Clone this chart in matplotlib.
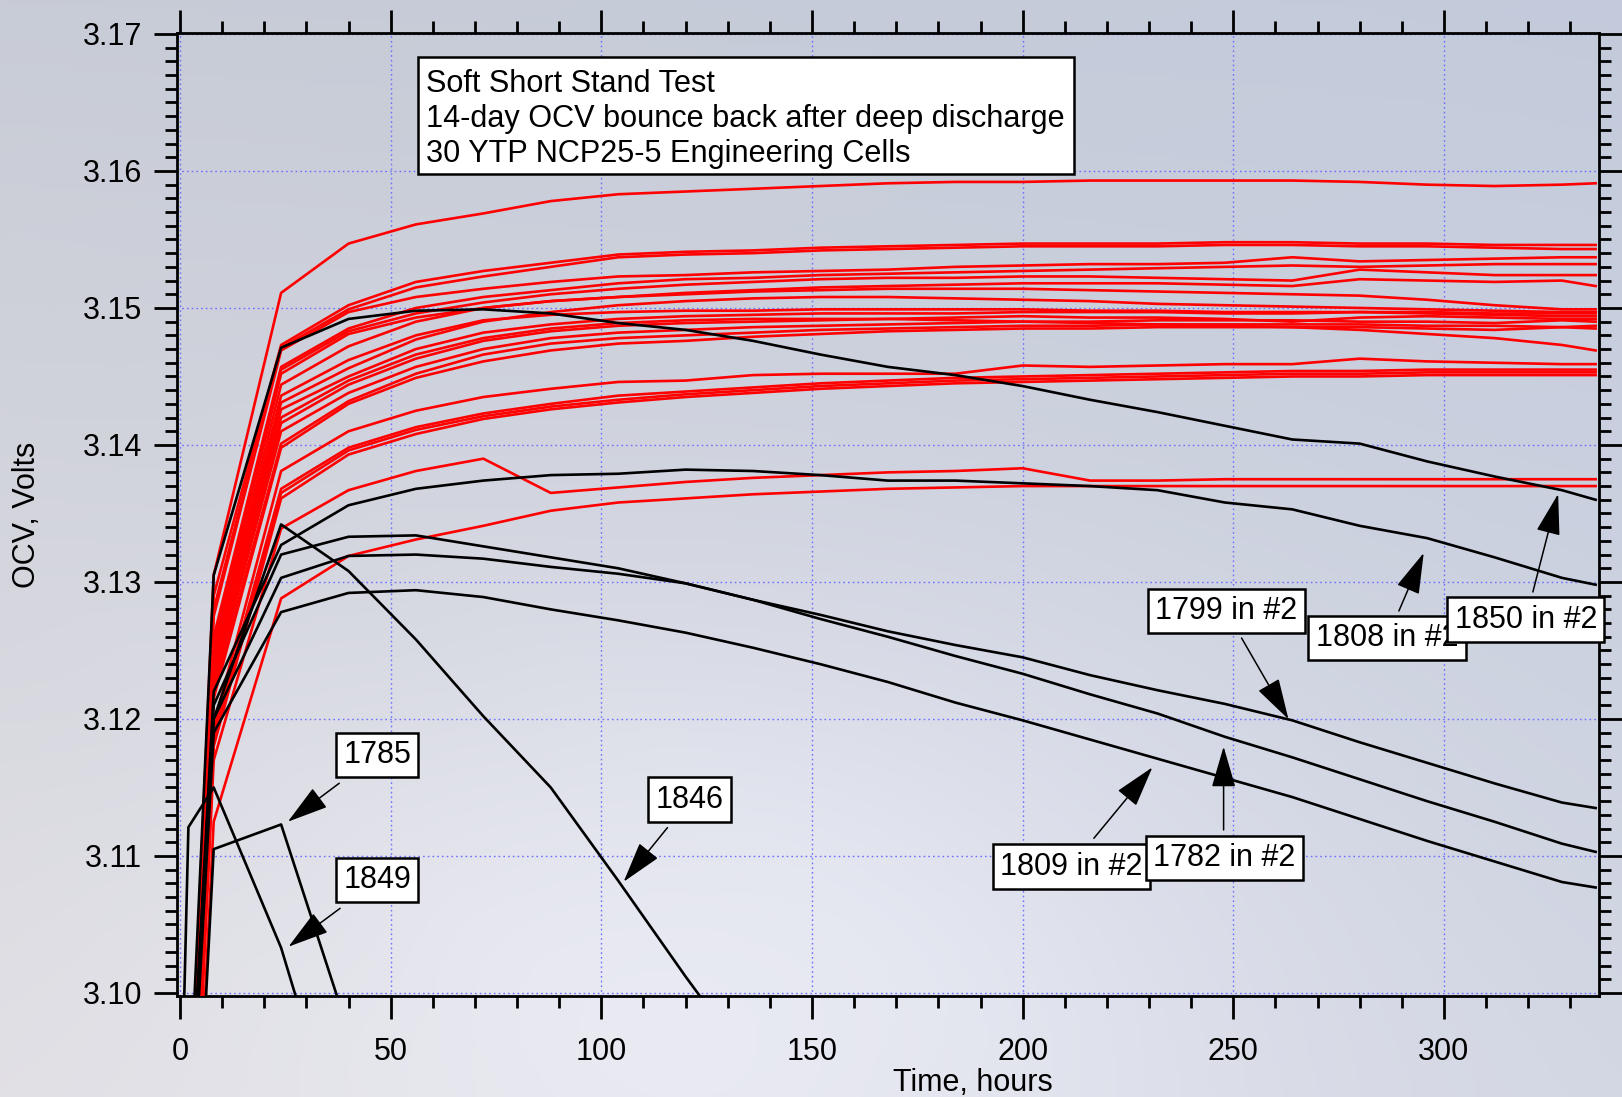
import numpy as np
import matplotlib
matplotlib.use("Agg")
import matplotlib.pyplot as plt
from matplotlib.ticker import MultipleLocator, FormatStrFormatter
from matplotlib.patches import Rectangle

plt.rcParams['font.family'] = ['Liberation Sans', 'DejaVu Sans']

# ---------------- data ----------------
hours = [0, 2, 8, 24, 40, 56, 72, 88, 104, 120, 136, 152, 168, 184, 200, 216,
         232, 248, 264, 280, 296, 312, 328, 336]

red_01 = [3.030, 3.088, 3.1305, 3.1511, 3.1547, 3.1561, 3.1569, 3.1578, 3.1583, 3.1585, 3.1587, 3.1589, 3.1591, 3.1592, 3.1592, 3.1593, 3.1593, 3.1593, 3.1593, 3.1592, 3.1590, 3.1589, 3.1590, 3.1591]
red_02 = [3.030, 3.086, 3.1290, 3.1473, 3.1502, 3.1519, 3.1527, 3.1533, 3.1539, 3.1541, 3.1542, 3.1544, 3.1545, 3.1546, 3.1547, 3.1547, 3.1547, 3.1548, 3.1548, 3.1547, 3.1547, 3.1546, 3.1546, 3.1546]
red_03 = [3.030, 3.086, 3.1280, 3.1471, 3.1499, 3.1515, 3.1523, 3.1530, 3.1537, 3.1539, 3.1540, 3.1542, 3.1543, 3.1544, 3.1545, 3.1545, 3.1545, 3.1546, 3.1546, 3.1545, 3.1545, 3.1544, 3.1543, 3.1543]
red_04 = [3.030, 3.085, 3.1275, 3.1469, 3.1497, 3.1508, 3.1514, 3.1519, 3.1523, 3.1524, 3.1526, 3.1527, 3.1528, 3.1530, 3.1531, 3.1532, 3.1532, 3.1533, 3.1537, 3.1534, 3.1535, 3.1536, 3.1537, 3.1537]
red_05 = [3.030, 3.085, 3.1260, 3.1457, 3.1485, 3.1500, 3.1508, 3.1513, 3.1518, 3.1521, 3.1522, 3.1524, 3.1525, 3.1526, 3.1527, 3.1528, 3.1529, 3.1530, 3.1531, 3.1530, 3.1531, 3.1532, 3.1532, 3.1532]
red_06 = [3.030, 3.084, 3.1255, 3.1455, 3.1483, 3.1496, 3.1504, 3.1510, 3.1514, 3.1517, 3.1519, 3.1521, 3.1522, 3.1522, 3.1523, 3.1523, 3.1522, 3.1521, 3.1520, 3.1528, 3.1526, 3.1524, 3.1524, 3.1524]
red_07 = [3.030, 3.084, 3.1250, 3.1452, 3.1481, 3.1493, 3.1500, 3.1505, 3.1508, 3.1511, 3.1513, 3.1515, 3.1516, 3.1517, 3.1518, 3.1518, 3.1518, 3.1517, 3.1516, 3.1521, 3.1520, 3.1519, 3.1520, 3.1516]
red_08 = [3.030, 3.084, 3.1245, 3.1444, 3.1472, 3.1490, 3.1500, 3.1505, 3.1508, 3.1510, 3.1512, 3.1513, 3.1514, 3.1514, 3.1514, 3.1513, 3.1512, 3.1511, 3.1510, 3.1509, 3.1506, 3.1502, 3.1499, 3.1499]
red_09 = [3.030, 3.083, 3.1240, 3.1431, 3.1456, 3.1477, 3.1490, 3.1497, 3.1502, 3.1505, 3.1507, 3.1508, 3.1508, 3.1507, 3.1506, 3.1505, 3.1503, 3.1502, 3.1501, 3.1500, 3.1499, 3.1498, 3.1497, 3.1497]
red_10 = [3.030, 3.083, 3.1235, 3.1426, 3.1450, 3.1470, 3.1482, 3.1488, 3.1492, 3.1494, 3.1495, 3.1496, 3.1496, 3.1496, 3.1497, 3.1497, 3.1497, 3.1496, 3.1496, 3.1497, 3.1496, 3.1495, 3.1494, 3.1494]
red_11 = [3.030, 3.082, 3.1230, 3.1416, 3.1444, 3.1463, 3.1476, 3.1483, 3.1487, 3.1489, 3.1490, 3.1491, 3.1492, 3.1493, 3.1494, 3.1493, 3.1493, 3.1492, 3.1490, 3.1493, 3.1494, 3.1493, 3.1492, 3.1492]
red_12 = [3.030, 3.082, 3.1225, 3.1410, 3.1438, 3.1457, 3.1470, 3.1478, 3.1482, 3.1484, 3.1486, 3.1487, 3.1488, 3.1489, 3.1490, 3.1490, 3.1491, 3.1491, 3.1491, 3.1490, 3.1490, 3.1489, 3.1491, 3.1490]
red_13 = [3.030, 3.081, 3.1220, 3.1401, 3.1432, 3.1452, 3.1466, 3.1474, 3.1478, 3.1480, 3.1482, 3.1484, 3.1485, 3.1486, 3.1487, 3.1487, 3.1488, 3.1488, 3.1488, 3.1488, 3.1487, 3.1487, 3.1486, 3.1487]
red_14 = [3.030, 3.081, 3.1215, 3.1398, 3.1430, 3.1449, 3.1461, 3.1469, 3.1474, 3.1476, 3.1479, 3.1481, 3.1483, 3.1484, 3.1485, 3.1485, 3.1486, 3.1486, 3.1486, 3.1486, 3.1485, 3.1484, 3.1486, 3.1485]
red_15 = [3.030, 3.083, 3.1238, 3.1420, 3.1447, 3.1466, 3.1478, 3.1485, 3.1489, 3.1491, 3.1492, 3.1492, 3.1492, 3.1491, 3.1490, 3.1489, 3.1488, 3.1487, 3.1486, 3.1484, 3.1481, 3.1478, 3.1473, 3.1469]
red_16 = [3.030, 3.083, 3.1242, 3.1436, 3.1462, 3.1480, 3.1491, 3.1495, 3.1497, 3.1498, 3.1498, 3.1499, 3.1499, 3.1499, 3.1499, 3.1498, 3.1498, 3.1497, 3.1497, 3.1497, 3.1497, 3.1496, 3.1496, 3.1496]
red_17 = [3.030, 3.080, 3.1195, 3.1381, 3.1410, 3.1425, 3.1435, 3.1441, 3.1446, 3.1447, 3.1451, 3.1452, 3.1452, 3.1452, 3.1458, 3.1457, 3.1458, 3.1459, 3.1459, 3.1463, 3.1461, 3.1460, 3.1459, 3.1459]
red_18 = [3.030, 3.080, 3.1190, 3.1368, 3.1398, 3.1413, 3.1423, 3.1430, 3.1436, 3.1439, 3.1442, 3.1445, 3.1447, 3.1449, 3.1450, 3.1451, 3.1452, 3.1453, 3.1454, 3.1454, 3.1455, 3.1455, 3.1455, 3.1455]
red_19 = [3.030, 3.079, 3.1185, 3.1365, 3.1396, 3.1411, 3.1421, 3.1428, 3.1433, 3.1437, 3.1440, 3.1443, 3.1445, 3.1447, 3.1448, 3.1449, 3.1450, 3.1451, 3.1452, 3.1452, 3.1453, 3.1453, 3.1453, 3.1453]
red_20 = [3.030, 3.079, 3.1180, 3.1361, 3.1393, 3.1408, 3.1419, 3.1426, 3.1431, 3.1435, 3.1438, 3.1441, 3.1443, 3.1445, 3.1446, 3.1447, 3.1448, 3.1449, 3.1450, 3.1450, 3.1451, 3.1451, 3.1451, 3.1451]
red_21 = [3.030, 3.078, 3.1170, 3.1339, 3.1367, 3.1381, 3.1390, 3.1365, 3.1369, 3.1373, 3.1376, 3.1378, 3.1380, 3.1381, 3.1383, 3.1374, 3.1374, 3.1375, 3.1375, 3.1375, 3.1375, 3.1375, 3.1375, 3.1375]
red_22 = [3.030, 3.075, 3.1125, 3.1288, 3.1319, 3.1331, 3.1341, 3.1352, 3.1358, 3.1361, 3.1364, 3.1366, 3.1368, 3.1369, 3.1370, 3.1370, 3.1370, 3.1370, 3.1370, 3.1370, 3.1370, 3.1370, 3.1370, 3.1370]

cell_1850 = [3.050, 3.090, 3.1305, 3.1471, 3.1492, 3.1498, 3.1499, 3.1496, 3.1489, 3.1484, 3.1476, 3.1466, 3.1457, 3.1451, 3.1443, 3.1433, 3.1424, 3.1414, 3.1404, 3.1401, 3.1388, 3.1377, 3.1367, 3.1360]
cell_1808 = [3.050, 3.088, 3.1220, 3.1327, 3.1356, 3.1368, 3.1374, 3.1378, 3.1379, 3.1382, 3.1381, 3.1378, 3.1374, 3.1374, 3.1372, 3.1370, 3.1367, 3.1358, 3.1353, 3.1341, 3.1332, 3.1318, 3.1303, 3.1298]
cell_1799 = [3.050, 3.088, 3.1210, 3.1320, 3.1333, 3.1334, 3.1326, 3.1318, 3.1310, 3.1299, 3.1287, 3.1276, 3.1264, 3.1254, 3.1245, 3.1232, 3.1221, 3.1211, 3.1199, 3.1183, 3.1168, 3.1153, 3.1139, 3.1135]
cell_1782 = [3.050, 3.087, 3.1200, 3.1303, 3.1319, 3.1320, 3.1317, 3.1311, 3.1306, 3.1299, 3.1287, 3.1273, 3.1260, 3.1246, 3.1233, 3.1218, 3.1204, 3.1187, 3.1172, 3.1156, 3.1140, 3.1125, 3.1109, 3.1103]
cell_1809 = [3.050, 3.086, 3.1190, 3.1278, 3.1292, 3.1294, 3.1289, 3.1280, 3.1272, 3.1263, 3.1252, 3.1240, 3.1227, 3.1212, 3.1199, 3.1185, 3.1171, 3.1157, 3.1143, 3.1127, 3.1111, 3.1096, 3.1081, 3.1077]
cell_1846 = [3.050, 3.088, 3.1200, 3.1342, 3.1308, 3.1258, 3.1202, 3.1150, 3.1082, 3.1012, 3.0945]
cell_1785 = [3.030, 3.075, 3.1105, 3.1123, 3.0972]
cell_1849 = [3.087, 3.1121, 3.1150, 3.1033, 3.0870]

red_cells = [red_01, red_02, red_03, red_04, red_05, red_06, red_07, red_08,
             red_09, red_10, red_11, red_12, red_13, red_14, red_15, red_16,
             red_17, red_18, red_19, red_20, red_21, red_22]
black_cells = [cell_1850, cell_1808, cell_1799, cell_1782, cell_1809,
               cell_1846, cell_1785, cell_1849]

title_lines = ["Soft Short Stand Test",
               "14-day OCV bounce back after deep discharge",
               "30 YTP NCP25-5 Engineering Cells"]

# callout labels: (text, box centre (h, V), arrow tail (h, V), arrow head (h, V))
callouts = [
    ("1785",       (46.8, 3.11737), (37.8, 3.11531), (25.6, 3.11250)),
    ("1849",       (46.8, 3.10825), (38.0, 3.10618), (25.75, 3.10338)),
    ("1846",       (120.9, 3.11412), (115.7, 3.11207), (105.3, 3.10812)),
    ("1799 in #2", (248.3, 3.12788), (251.96, 3.12591), (263.1, 3.11998)),
    ("1808 in #2", (286.5, 3.12591), (289.3, 3.12788), (295.2, 3.13212)),
    ("1850 in #2", (319.4, 3.12726), (321.1, 3.12927), (327.1, 3.13642)),
    ("1809 in #2", (211.6, 3.10923), (216.9, 3.11129), (230.8, 3.11647)),
    ("1782 in #2", (247.9, 3.10985), (247.7, 3.11190), (247.7, 3.11798)),
]

# ---------------- figure ----------------
W, H = 1622, 1097
FS = 22.0
fig = plt.figure(figsize=(W / 100, H / 100), dpi=100)

# grey-blue backdrop (smooth gradient)
bg = fig.add_axes([0, 0, 1, 1], zorder=-10)
bg.set_axis_off()
ny, nx = 220, 330
yy, xx = np.mgrid[0:1:ny * 1j, 0:1:nx * 1j]
tl = np.array([0.785, 0.800, 0.840])
tr = np.array([0.765, 0.795, 0.860])
bl = np.array([0.875, 0.870, 0.890])
br = np.array([0.825, 0.840, 0.890])
img = ((1 - xx)[..., None] * (1 - yy)[..., None] * tl + xx[..., None] * (1 - yy)[..., None] * tr
       + (1 - xx)[..., None] * yy[..., None] * bl + xx[..., None] * yy[..., None] * br)
glow = np.exp(-(((xx - 0.45) / 0.33) ** 2 + ((yy - 0.88) / 0.33) ** 2))
img = img + 0.065 * glow[..., None]
bg.imshow(np.clip(img, 0, 1), aspect='auto', extent=[0, 1, 0, 1], origin='upper')
bg.set_xlim(0, 1)
bg.set_ylim(0, 1)

ax = fig.add_axes([177 / W, 1 - 996 / H, 1422 / W, 963 / H])
ax.set_facecolor('none')

for vals in red_cells:
    ax.plot(hours[:len(vals)], vals, color='#ff0000', lw=1.9, zorder=3)
for vals in black_cells:
    ax.plot(hours[:len(vals)], vals, color='black', lw=1.9, zorder=4)

ax.set_xlim(-0.71, 336.8)
ax.set_ylim(3.09978, 3.17007)

ax.xaxis.set_major_locator(MultipleLocator(50))
ax.xaxis.set_minor_locator(MultipleLocator(10))
ax.yaxis.set_major_locator(MultipleLocator(0.01))
ax.yaxis.set_minor_locator(MultipleLocator(0.001))
ax.yaxis.set_major_formatter(FormatStrFormatter('%.2f'))

ax.tick_params(which='both', direction='out', top=True, right=True,
               labeltop=False, labelright=False, width=2.0, color='black')
ax.tick_params(which='major', length=16.5, labelsize=FS)
ax.tick_params(which='minor', length=8.8)
ax.tick_params(axis='x', which='major', pad=13.0)
ax.tick_params(axis='y', which='major', pad=8.5)
for sp in ax.spines.values():
    sp.set_linewidth(2.0)

ax.set_axisbelow(True)
ax.grid(True, which='major', color='#7070ff', linestyle=(0, (1.2, 2.2)), linewidth=1.0)

ax.set_xlabel('Time, hours', fontsize=FS)
ax.xaxis.set_label_coords((973 - 177) / 1422, -0.0745)
ax.set_ylabel('OCV, Volts', fontsize=FS)
ax.yaxis.set_label_coords(-0.0946, 0.5)

# title box
ax.add_patch(Rectangle((0.1695, 0.8536), 0.4613, 0.1215, transform=ax.transAxes,
                       facecolor='white', edgecolor='black', lw=1.8, zorder=8))
for i, line in enumerate(title_lines):
    ax.text(0.1751, 0.9390 - i * 0.03635, line, transform=ax.transAxes,
            ha='left', va='baseline', fontsize=22.1, zorder=9)

# callouts
for k, (label, centre, tail, head) in enumerate(callouts):
    ax.annotate('', xy=head, xytext=tail,
                arrowprops=dict(arrowstyle='-|>,head_length=1.3,head_width=0.38',
                                mutation_scale=20, color='black', lw=1.1,
                                shrinkA=0, shrinkB=0), zorder=7)
    ax.text(centre[0], centre[1], label, ha='center', va='center', fontsize=FS,
            zorder=10 + k, clip_on=False,
            bbox=dict(boxstyle='square,pad=0.24', facecolor='white',
                      edgecolor='black', lw=1.8))

fig.savefig('out.png', dpi=100)
